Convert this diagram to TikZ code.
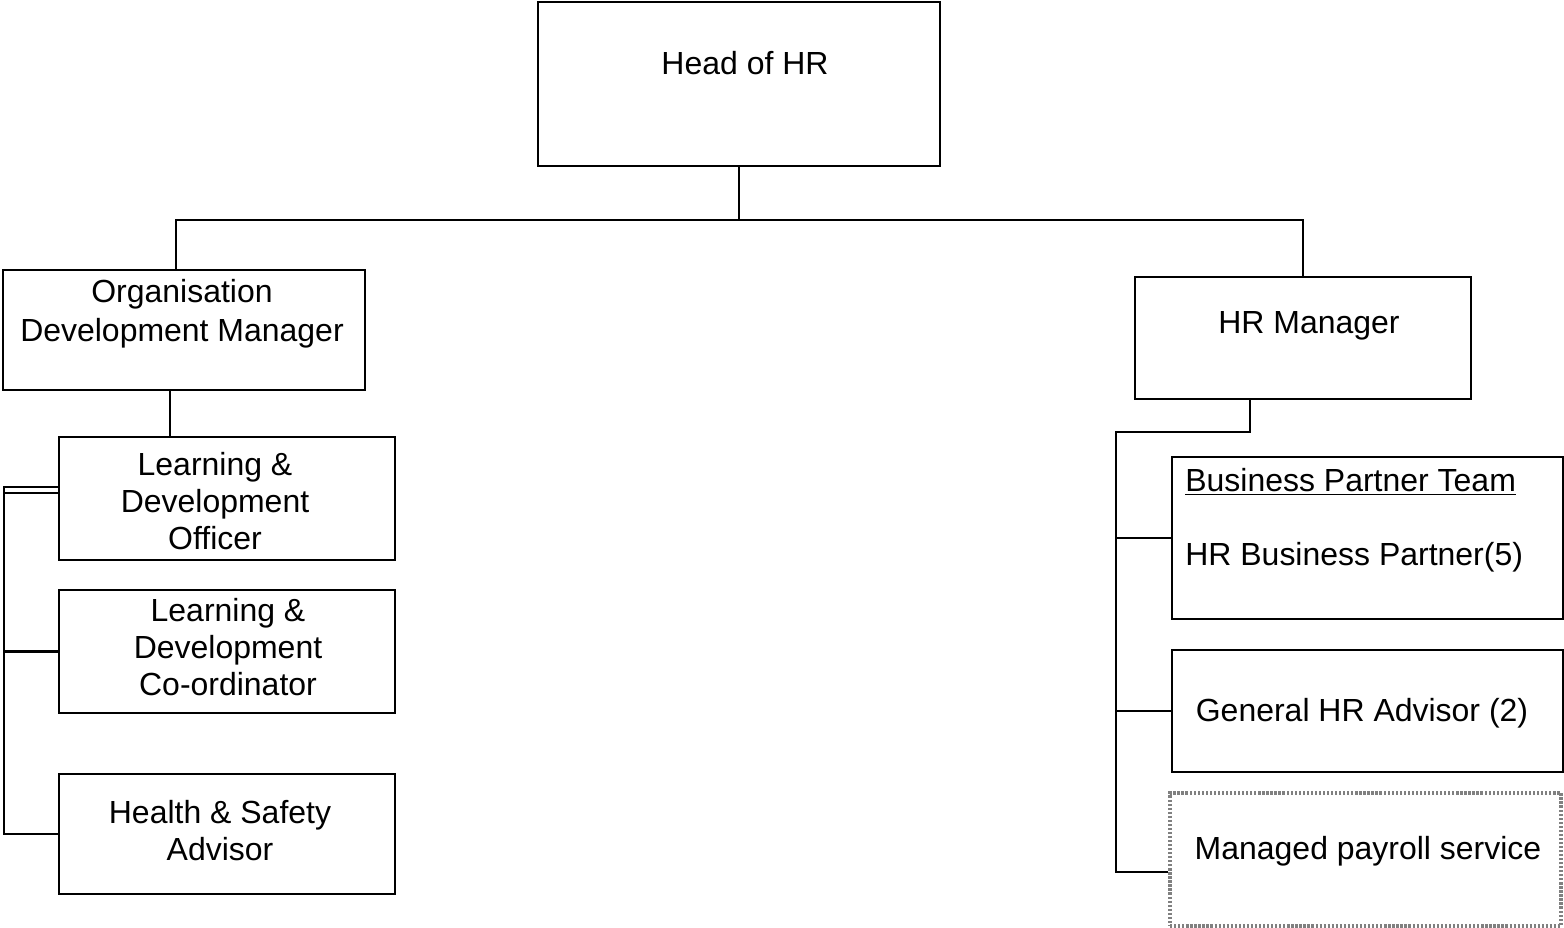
\documentclass[tikz,border=0pt]{standalone}
\usepackage{fontspec}
\setmainfont{Liberation Sans}
\usetikzlibrary{positioning}

\begin{document}
\begin{tikzpicture}[x=0.02cm, y=-0.02cm,
    box/.style={draw, line width=1.3pt, inner sep=0pt},
    txt/.style={font=\fontsize{18.2}{21}\selectfont, align=center, inner sep=0pt},
    wire/.style={line width=1.3pt}]
  \useasboundingbox (0,0) rectangle (1564,928);

  % boxes
  \node[box, minimum width=8.04cm, minimum height=3.28cm] (head) at (739,84) {};
  \node[box, minimum width=7.24cm, minimum height=2.4cm] (odm) at (184,330) {};
  \node[box, minimum width=6.72cm, minimum height=2.44cm] (hrm) at (1303,338) {};
  \node[box, minimum width=6.72cm, minimum height=2.46cm] (ldo) at (227,498.5) {};
  \node[box, minimum width=6.72cm, minimum height=2.46cm] (ldc) at (227,651.5) {};
  \node[box, minimum width=6.72cm, minimum height=2.4cm] (hsa) at (227,834) {};
  \node[box, minimum width=7.82cm, minimum height=3.24cm] (bpt) at (1367.5,538) {};
  \node[box, minimum width=7.82cm, minimum height=2.44cm] (gha) at (1367.5,711) {};
  \node[box, draw=gray, densely dotted, line width=1.8pt,
        minimum width=7.82cm, minimum height=2.66cm] (mps) at (1365.5,859.5) {};

  % texts
  \node[txt] (headtxt) at (745,63) {Head of HR};
  \node[txt] (odmtxt) at (182,314) {Organisation\\[1pt]Development Manager};
  \node[txt] (hrmtxt) at (1309,326) {HR Manager};
  \node[txt] (ldotxt) at (215,501) {Learning \&\\Development\\Officer};
  \node[txt] (ldctxt) at (228,647) {Learning \&\\Development\\Co-ordinator};
  \node[txt] (hsatxt) at (220,831) {Health \& Safety\\Advisor};
  \node[txt, anchor=west] (bpttitle) at (1185,482) {\underline{Business Partner Team}};
  \node[txt, anchor=west] (bpttxt) at (1185,557) {HR Business Partner(5)};
  \node[txt] (ghatxt) at (1362,713) {General HR Advisor (2)};
  \node[txt] (mpstxt) at (1368,851) {Managed payroll service};

  % connectors
  \coordinate (hj) at (739,220);
  \draw[wire] (head.south) -- (hj);
  \draw[wire] (odm.north -| 176,0) |- (hj) -| (hrm.north);
  \draw[wire] (odm.south -| 170,0) -- (ldo.north -| 170,0);

  \coordinate (lt) at (4,487);
  \draw[wire] (ldo.west |- lt) -- (lt) -- (4,834) -- (hsa.west);
  \draw[wire] (4,493) -- (ldo.west |- 0,493);
  \draw[wire] (4,651.5) -- (ldc.west);

  \coordinate (rt) at (1116,432);
  \draw[wire] (hrm.south -| 1250,0) |- (rt) -- (1116,872) -- (mps.west |- 0,872);
  \draw[wire] (1116,538) -- (bpt.west);
  \draw[wire] (1116,711) -- (gha.west);
\end{tikzpicture}
\end{document}
